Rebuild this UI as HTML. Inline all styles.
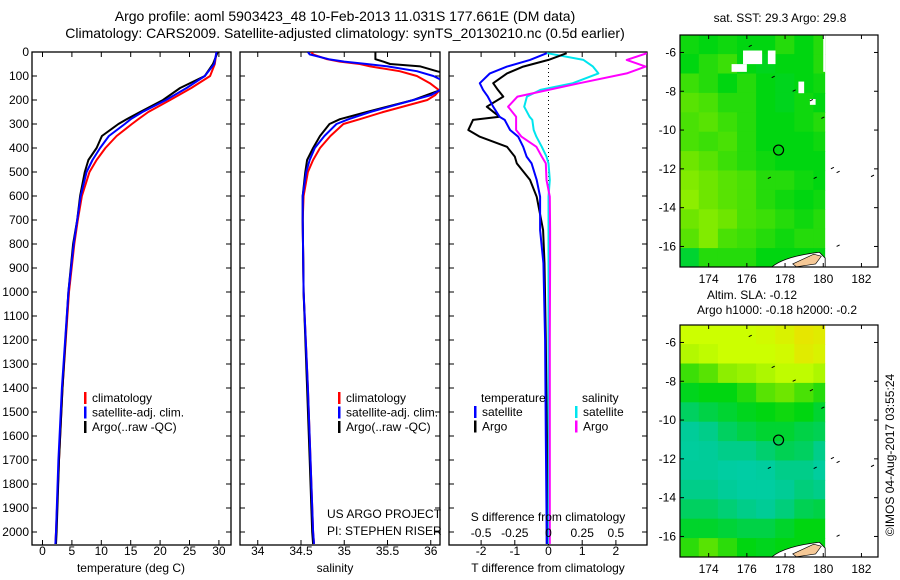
<!DOCTYPE html>
<html><head><meta charset="utf-8"><style>
html,body{margin:0;padding:0;background:#fff}
svg{display:block;font-family:"Liberation Sans",sans-serif}
</style></head><body>
<svg id="c" width="900" height="580" viewBox="0 0 900 580" xmlns="http://www.w3.org/2000/svg">
<text x="345" y="21" font-size="14" text-anchor="middle">Argo profile: aoml 5903423_48 10-Feb-2013 11.031S 177.661E (DM data)</text>
<text x="345" y="38" font-size="14" text-anchor="middle">Climatology: CARS2009. Satellite-adjusted climatology: synTS_20130210.nc (0.5d earlier)</text>
<g id="g"></g>
</svg>
<script>
// ---------- data ----------
const tDepth   = [0,50,100,150,200,250,280,300,350,400,450,500,600,700,800,1000,1400,1700,2000,2050];
const tClim    = [29.6,29.3,28.5,25.3,21.7,18.0,16.3,15.2,12.6,10.7,9.2,8.0,6.7,6.0,5.4,4.5,3.4,2.8,2.3,2.2];
const tSat     = [29.6,29.2,27.6,24.5,21.0,17.0,15.0,14.0,11.3,9.8,8.5,7.5,6.5,5.9,5.3,4.4,3.3,2.7,2.3,2.2];
const tArgo    = [29.8,29.0,27.6,23.4,20.5,16.6,14.3,12.9,10.1,9.2,7.8,7.2,6.4,5.9,5.2,4.4,3.4,2.8,2.4,2.3];
const sDepth   = [0,10,30,40,50,60,80,100,130,160,180,200,250,280,300,350,400,450,500,600,700,1000,1400,1700,2000,2050];
const sClim    = [34.62,34.64,34.80,34.95,35.18,35.30,35.64,35.84,35.99,36.10,36.05,35.96,35.45,35.18,34.99,34.84,34.72,34.64,34.58,34.53,34.52,34.53,34.58,34.61,34.64,34.65];
const sSat     = [34.58,34.60,34.82,35.00,35.26,35.50,35.84,36.03,36.20,36.10,36.00,35.80,35.30,35.05,34.91,34.77,34.66,34.60,34.56,34.52,34.52,34.53,34.58,34.61,34.64,34.65];
const sArgo    = [35.36,35.36,35.36,35.45,35.53,35.88,36.07,36.30,36.30,36.10,35.95,35.80,35.26,34.95,34.83,34.72,34.64,34.57,34.55,34.52,34.52,34.53,34.57,34.60,34.63,34.64];
const dDepth   = [5,33,61,89,130,158,186,228,270,283,325,353,395,436,464,533,603,742,880,1200,1600,2050];
const dTArgo   = [0.54,0.0,-0.75,-1.23,-1.64,-1.5,-1.34,-1.83,-1.45,-2.24,-2.38,-2.04,-1.23,-1.0,-0.94,-0.55,-0.35,-0.16,-0.12,-0.08,-0.05,-0.05];
const dTSat    = [-0.05,-0.55,-1.23,-1.74,-2.04,-1.94,-1.8,-1.64,-1.45,-1.3,-1.14,-0.9,-0.75,-0.65,-0.5,-0.35,-0.25,-0.25,-0.15,-0.1,-0.08,-0.05];
const dSSat    = [-0.01,0.26,0.33,0.37,0.18,-0.06,-0.16,-0.18,-0.14,-0.12,-0.11,-0.09,-0.05,-0.015,0.0,0.01,0.0,0.0,0.0,0.0,0.0,0.0];
const dSArgo   = [0.73,0.58,0.72,0.58,0.23,0.0,-0.23,-0.3,-0.24,-0.24,-0.24,-0.2,-0.09,-0.05,-0.02,-0.015,0.01,0.012,0.012,0.01,0.01,0.01];
const tTicks   = [0,5,10,15,20,25,30];
const sTicks   = [34,34.5,35,35.5,36];
const dTTicks  = [-2,-1,0,1,2];
const dSTicks  = [-0.5,-0.25,0,0.25,0.5];
const depthTicks = [0,100,200,300,400,500,600,700,800,900,1000,1100,1200,1300,1400,1500,1600,1700,1800,1900,2000];
const lonTicks = [174,176,178,180,182];
const latTicks = [-6,-8,-10,-12,-14,-16];
const sstGrid = [
[.52,.50,.52,.50,.50,.55,.50,.55],
[.50,.55,.58,.50,.48,.50,.50,.55],
[.58,.55,.50,.55,.50,.48,.50,.52],
[.62,.60,.55,.55,.50,.48,.52,.50],
[.60,.62,.58,.55,.50,.50,.52,.55],
[.60,.58,.60,.55,.50,.50,.50,.52],
[.65,.62,.58,.55,.52,.50,.50,.50],
[.68,.65,.62,.60,.55,.55,.52,.50],
[.70,.65,.62,.60,.55,.52,.50,.52],
[.65,.68,.65,.60,.58,.55,.52,.55],
[.62,.68,.60,.58,.55,.52,.55,.55],
[.45,.55,.55,.55,.50,.50,.50,.50]];
const slaGrid = [
[.80,.80,.80,.80,.82,.85,.90,.88],
[.76,.78,.80,.80,.80,.82,.88,.85],
[.58,.62,.70,.72,.75,.78,.78,.75],
[.48,.50,.50,.55,.62,.65,.60,.55],
[.38,.42,.45,.48,.50,.52,.50,.45],
[.28,.32,.38,.42,.45,.45,.42,.40],
[.25,.28,.32,.32,.36,.40,.38,.32],
[.28,.28,.22,.20,.24,.32,.32,.24],
[.32,.32,.28,.22,.22,.30,.34,.32],
[.38,.38,.35,.32,.30,.34,.40,.42],
[.46,.46,.44,.42,.42,.46,.50,.50],
[.56,.62,.56,.50,.48,.50,.50,.50]];
const argoLon = 177.661, argoLat = -11.031;

// ---------- helpers ----------
const NS="http://www.w3.org/2000/svg";
const G=document.getElementById('g');
function mk(tag,attrs,parent){const e=document.createElementNS(NS,tag);for(const k in attrs)e.setAttribute(k,attrs[k]);(parent||G).appendChild(e);return e;}
function txt(x,y,s,size,anchor,parent){const e=mk('text',{x:x,y:y,'font-size':size||12,'text-anchor':anchor||'middle'},parent);e.textContent=s;return e;}

const TOP=52,BOT=545;
const yD=d=>TOP+d*0.24;
const xT=t=>42.5+t*5.88;
const xS=s=>301+(s-34.5)*86.5;
const xDT=v=>548.5+v*33.7;
const xDS=v=>548.5+v*134.8;

function panel(x0,x1,name){
  const r=mk('rect',{x:x0,y:TOP,width:x1-x0,height:BOT-TOP,fill:'none',stroke:'#000','stroke-width':1.3});
  
  
  mk('clipPath',{id:'cp'+name}).appendChild(mk('rect',{x:x0,y:TOP,width:x1-x0,height:BOT-TOP}));
  return 'url(#cp'+name+')';
}
function line(xs,ds,xf,color,clip,name){
  const pts=xs.map((v,i)=>xf(v).toFixed(1)+','+yD(ds[i]).toFixed(1)).join(' ');
  const p=mk('polyline',{points:pts,fill:'none',stroke:color,'stroke-width':2,'clip-path':clip,'stroke-linejoin':'round'});
  
  
}
function xticks(ticks,xf,x0,x1,labelY,labels){
  ticks.forEach((t,i)=>{const x=xf(t);
    mk('line',{x1:x,x2:x,y1:TOP,y2:TOP+5,stroke:'#000'});
    mk('line',{x1:x,x2:x,y1:BOT,y2:BOT-5,stroke:'#000'});
    if(labelY) {const e=txt(x,labelY,labels?labels[i]:String(t),12);
      
      }
  });
}
function yticks(x0,x1,label){
  depthTicks.forEach(d=>{const y=yD(d);
    mk('line',{x1:x0,x2:x0+5,y1:y,y2:y,stroke:'#000'});
    mk('line',{x1:x1,x2:x1-5,y1:y,y2:y,stroke:'#000'});
    if(label){const e=txt(x0-3,y+4,String(d),12,'end');
      
      }
  });
}
function legend(x,y,items){
  items.forEach((it,i)=>{
    mk('rect',{x:x,y:y+i*14.5-10,width:2.5,height:12,fill:it[0]});
    const e=txt(x+8,y+i*14.5,it[1],12,'start');
    
    
  });
}

// ---------- panel 1 ----------
let c1=panel(32,231,'temperature-panel');
yticks(32,231,true);
xticks(tTicks,xT,32,231,555);
line(tClim,tDepth,xT,'#ff0000',c1,'temp-climatology-line');
line(tArgo,tDepth,xT,'#000000',c1,'temp-argo-line');
line(tSat,tDepth,xT,'#0000ff',c1,'temp-satellite-line');
let e=txt(131,572,'temperature (deg C)',12);
legend(84,402,[['#ff0000','climatology'],['#0000ff','satellite-adj. clim.'],['#000','Argo(..raw -QC)']]);

// ---------- panel 2 ----------
let c2=panel(240,440,'salinity-panel');
yticks(240,440,false);
xticks(sTicks,xS,240,440,555);
line(sClim,sDepth,xS,'#ff0000',c2,'sal-climatology-line');
line(sArgo,sDepth,xS,'#000000',c2,'sal-argo-line');
line(sSat,sDepth,xS,'#0000ff',c2,'sal-satellite-line');
e=txt(335,572,'salinity',12);
legend(338,402,[['#ff0000','climatology'],['#0000ff','satellite-adj. clim.'],['#000','Argo(..raw -QC)']]);
txt(327,518,'US ARGO PROJECT',12,'start');
txt(327,535,'PI: STEPHEN RISER',12,'start');

// ---------- panel 3 ----------
let c3=panel(449,647,'difference-panel');
yticks(449,647,false);
xticks(dTTicks,xDT,449,647,555,['-2','-1','0','1','2']);
mk('line',{x1:548.5,x2:548.5,y1:TOP,y2:BOT,stroke:'#000','stroke-dasharray':'1,3'});
line(dSSat,dDepth,xDS,'#00e5ee',c3,'sdiff-satellite-line');
line(dSArgo,dDepth,xDS,'#ff00ff',c3,'sdiff-argo-line');
line(dTArgo,dDepth,xDT,'#000000',c3,'tdiff-argo-line');
line(dTSat,dDepth,xDT,'#0000ff',c3,'tdiff-satellite-line');
dSTicks.forEach((v,i)=>{const t=txt(xDS(v),537,['-0.5','-0.25','0','0.25','0.5'][i],12);});
txt(548,521,'S difference from climatology',12);
e=txt(548,572,'T difference from climatology',12);
txt(481,402,'temperature',12,'start');
txt(582,402,'salinity',12,'start');
legend(474,416,[['#0000ff','satellite'],['#000','Argo']]);
legend(575,416,[['#00e5ee','satellite'],['#ff00ff','Argo']]);

// ---------- maps ----------
const stops=[[0,[0,208,192]],[0.3,[0,204,150]],[0.5,[0,214,16]],[0.65,[110,230,0]],[0.8,[204,255,0]],[1,[255,204,0]]];
function cmap(v){for(let i=1;i<stops.length;i++){if(v<=stops[i][0]){const a=stops[i-1],b=stops[i],f=(v-a[0])/(b[0]-a[0]);const c=a[1].map((x,j)=>Math.round(x+(b[1][j]-x)*f));return 'rgb('+c.join(',')+')';}}return 'rgb(255,204,0)';}
function map(y0,grid,name,titles){
  const L=680,R=878,T=y0,B=y0+232;
  const mx=lon=>L+(lon-172.5)*19.1;
  const my=lat=>T+(-5.1-lat)*19.4;
  const g=mk('g',{});
  
  
  mk('clipPath',{id:'cp'+name}).appendChild(mk('rect',{x:L,y:T,width:mx(180.1)-L,height:B-T}));
  const cells=mk('g',{'clip-path':'url(#cp'+name+')'},g);
  grid.forEach((row,r)=>row.forEach((v,cI)=>{
    const rc=mk('rect',{x:mx(172.5+cI)-0.3,y:my(-5.1-r)-0.3,width:19.7,height:20,fill:cmap(v)},cells);
    
    
  }));
  if(name==='sst-map'){
    [[175.8,-5.9,176.8,-6.6],[175.2,-6.6,176.0,-7.0],[177.1,-5.9,177.5,-6.6],[180.0,-5.1,180.1,-7.0],[178.7,-7.5,179.0,-8.1],[179.3,-8.4,179.6,-8.7]].forEach(b=>mk('rect',{x:mx(b[0]),y:my(b[1]),width:mx(b[2])-mx(b[0]),height:my(b[3])-my(b[1]),fill:'#fff'},g));
  }
  mk('path',{d:`M${mx(177.3)},${B} Q${mx(178)},${my(-16.5)} ${mx(179.8)},${my(-16.3)} L${mx(180.1)},${my(-16.6)} L${mx(180.1)},${B} Z`,fill:'#fff',stroke:'#000','stroke-width':0.8},g);
  mk('path',{d:`M${mx(178.4)},${my(-16.9)} L${mx(179.5)},${my(-16.4)} L${mx(179.9)},${my(-16.5)} L${mx(179.6)},${my(-16.9)} L${mx(178.6)},${my(-17.05)} Z`,fill:'#f5c896',stroke:'#000','stroke-width':0.6},g);
  [[176.1,-5.7],[177.3,-7.3],[178.4,-8.0],[179.3,-8.5],[179.9,-9.4],[177.1,-12.5],[179.5,-12.5],[180.4,-12.0],[180.7,-12.2],[182.5,-12.4],[180.7,-16.0]].forEach(p=>mk('line',{x1:mx(p[0]),y1:my(p[1]),x2:mx(p[0])+3,y2:my(p[1])-1.5,stroke:'#000','stroke-width':1},g));
  mk('rect',{x:L,y:T,width:R-L,height:B-T,fill:'none',stroke:'#000','stroke-width':1.2},g);
  lonTicks.forEach(l=>{const x=mx(l);mk('line',{x1:x,x2:x,y1:T,y2:T+4,stroke:'#000'},g);mk('line',{x1:x,x2:x,y1:B,y2:B-4,stroke:'#000'},g);txt(x,B+16,String(l),12,'middle',g);});
  latTicks.forEach(l=>{const y=my(l);mk('line',{x1:L,x2:L+4,y1:y,y2:y,stroke:'#000'},g);mk('line',{x1:R,x2:R-4,y1:y,y2:y,stroke:'#000'},g);txt(L-4,y+4,String(l),12,'end',g);});
  const ci=mk('circle',{cx:mx(argoLon),cy:my(argoLat),r:5,fill:'none',stroke:'#000','stroke-width':1.2},g);
  
  
  titles.forEach(t=>txt(t[0],t[1],t[2],12,'middle',g));
}
map(35,sstGrid,'sst-map',[[780,22,'sat. SST: 29.3  Argo: 29.8']]);
map(325,slaGrid,'sla-map',[[752,299,'Altim. SLA: -0.12'],[777,314,'Argo h1000: -0.18 h2000: -0.2']]);
e=txt(0,0,'©IMOS 04-Aug-2017 03:55:24',12);
e.setAttribute('transform','translate(894,455) rotate(-90)');


</script>
</body></html>
